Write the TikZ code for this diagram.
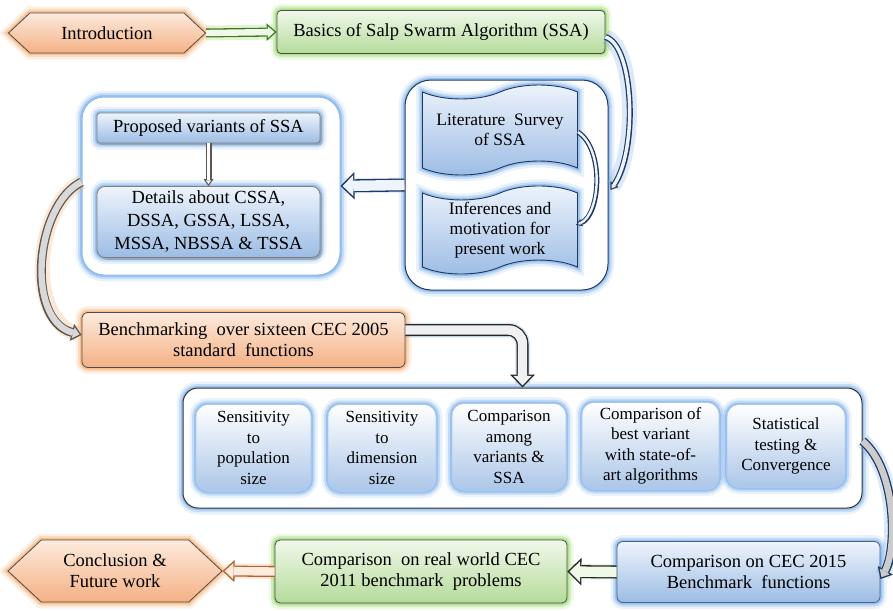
\documentclass[tikz,border=0pt]{standalone}
\usepackage{fontspec}
\setmainfont{Liberation Serif}
\usetikzlibrary{arrows.meta,shapes.symbols,shadows}
\definecolor{orLight}{HTML}{FDEBDD}
\definecolor{orDark}{HTML}{F4B084}
\definecolor{orGlow}{HTML}{F4A460}
\definecolor{grLight}{HTML}{F0F8EA}
\definecolor{grDark}{HTML}{B5DB9A}
\definecolor{grGlow}{HTML}{8FD45C}
\definecolor{blLight}{HTML}{EEF4FC}
\definecolor{blDark}{HTML}{9CBCE4}
\definecolor{blGlow}{HTML}{6FA8E8}
\definecolor{navy}{HTML}{1F3864}
\definecolor{arGreen}{HTML}{3F7A1E}
\definecolor{arOrange}{HTML}{B8602A}
\definecolor{arGray}{HTML}{5E5650}
\tikzset{
  x=1pt,y=-1pt,
  every node/.style={font=\fontsize{18.5}{21}\selectfont, align=center, inner sep=2pt},
  glow/.style={preaction={draw=#1, line width=13pt, opacity=0.15},
               preaction={draw=#1, line width=8pt, opacity=0.3},
               preaction={draw=#1, line width=4pt, opacity=0.5}},
  orbox/.style={draw=black!70, line width=0.8pt, top color=orLight, bottom color=orDark, glow=orGlow},
  grbox/.style={draw=black!70, line width=0.8pt, top color=grLight, bottom color=grDark, glow=grGlow},
  blbox/.style={draw=navy!80, line width=0.8pt, top color=blLight, bottom color=blDark, glow=blGlow},
  hexa/.style={signal, signal to=west and east, signal pointer angle=86, inner sep=0pt},
  grp/.style={draw=#1, line width=1pt, fill=white, glow=blGlow},
  inbox/.style={rounded corners=12pt, top color=white, bottom color=blDark!85, draw=blGlow!60, line width=0.6pt,
                glow=blGlow, font=\fontsize{17}{20.5}\selectfont},
  tp/.style={tape, tape bend top=in and out, tape bend bottom=in and out, tape bend height=14pt,
             draw=navy, line width=0.9pt, top color=blLight, bottom color=blDark, glow=blGlow,
             font=\fontsize{17.5}{20}\selectfont},
  aglow/.style={preaction={draw=#1, opacity=0.25, line width=15pt, -, shorten >=4pt}},
  harrow/.style n args={3}{
    /utils/exec={\pgfmathsetlengthmacro\hW{2.5*#3-5pt}%
                 \pgfmathsetlengthmacro\hL{#3+1pt}%
                 \pgfmathsetlengthmacro\hLi{\hL-3.4pt}%
                 \pgfmathsetlengthmacro\hWi{\hW*\hLi/\hL}%
                 \pgfmathsetlengthmacro\hS{#3-2.6pt}},
    preaction={draw=#1, line width=#3, shorten >=0pt, -{Triangle[length=\hL,width=\hW,line width=0pt]}},
    draw=#2, line width=\hS, shorten >=2.1pt, -{Triangle[length=\hLi,width=\hWi,line width=0pt]}},
}
\begin{document}
\begin{tikzpicture}
\useasboundingbox (0,0) rectangle (893,610);
% top row
\node[hexa, orbox, minimum width=197pt, minimum height=40pt] (intro) at (107,33) {Introduction};
\node[grbox, rounded corners=4pt, minimum width=328pt, minimum height=43pt] (basics) at (441,32) {Basics of Salp Swarm Algorithm (SSA)};
% literature group
\node[grp=navy, rounded corners=26pt, minimum width=203pt, minimum height=210pt] (litgroup) at (506.5,185) {};
\node[tp, minimum width=155pt, minimum height=90pt] (lit) at (500,130) {Literature\ \ Survey\\of SSA};
\node[tp, minimum width=155pt, minimum height=80pt] (inf) at (500,230) {Inferences and\\motivation\ for\\present work};
% left group
\node[grp=blGlow!80, rounded corners=22pt, minimum width=258pt, minimum height=178pt] (leftgroup) at (211,186) {};
\node[blbox, draw=black!50, rounded corners=3pt, minimum width=223pt, minimum height=30pt, drop shadow={opacity=0.4}] (prop) at (208.5,128) {Proposed variants\ of SSA};
\node[blbox, draw=black!50, rounded corners=8pt, minimum width=223pt, minimum height=71pt, drop shadow={opacity=0.4},
      font=\fontsize{18.5}{23}\selectfont] (details) at (208.5,222) {Details about CSSA,\\DSSA,\ GSSA,\ LSSA,\\MSSA,\ NBSSA \& TSSA};
% benchmark
\node[orbox, rounded corners=6pt, minimum width=323pt, minimum height=55pt] (bench) at (243.5,340) {Benchmarking\ \ over sixteen CEC 2005\\standard\ \ functions};
% bottom group
\node[grp=black!80, rounded corners=15pt, minimum width=679pt, minimum height=120pt] (botgroup) at (522.5,448) {};
\node[inbox, minimum width=115pt, minimum height=87pt] (s1) at (253.5,448) {Sensitivity\\to\\population\\size};
\node[inbox, minimum width=108pt, minimum height=87pt] (s2) at (382,448) {Sensitivity\\to\\dimension\\size};
\node[inbox, minimum width=114pt, minimum height=87pt] (s3) at (509,447) {Comparison\\among\\variants \&\\SSA};
\node[inbox, minimum width=137pt, minimum height=87pt] (s4) at (650.5,446) {Comparison of\\best variant\\with state-of-\\art algorithms};
\node[inbox, minimum width=118pt, minimum height=83pt] (s5) at (786,446) {Statistical\\testing \&\\Convergence};
% bottom row
\node[blbox, rounded corners=6pt, minimum width=263pt, minimum height=61pt] (cec15) at (748.5,572) {Comparison on CEC 2015\\Benchmark\ \ functions};
\node[grbox, rounded corners=5pt, minimum width=292pt, minimum height=63pt] (real) at (421,571.5) {Comparison\ \ on real world CEC\\2011 benchmark\ \ problems};
\node[hexa, orbox, minimum width=214pt, minimum height=62pt] (concl) at (115,571) {Conclusion \&\\Future work};
% connectors
\draw[aglow=grGlow, harrow={arGreen}{grLight}{9pt}] (intro.east) -- (basics.west);
\draw[aglow=blGlow, harrow={navy}{blLight}{6pt}] ([yshift=-5pt]basics.east) .. controls (634,45) and (638,150) .. ([xshift=2pt,yshift=-5pt]litgroup.east);
\draw[harrow={navy}{blLight}{5pt}] ([yshift=-2pt]lit.east) .. controls (605,150) and (600,215) .. ([xshift=-2pt,yshift=5pt]inf.east);
\draw[aglow=blGlow, harrow={navy}{blLight}{13pt}] (litgroup.west) -- (leftgroup.east);
\draw[harrow={arGray}{white}{6pt}] (prop.south) -- (details.north);
\draw[aglow=orGlow, harrow={arGray}{black!15}{9pt}] ([yshift=4pt]leftgroup.west) .. controls (35,205) and (25,320) .. ([yshift=5pt]bench.west);
\draw[aglow=blGlow, harrow={black!85}{black!6}{12pt}, rounded corners=14pt] ([yshift=10pt]bench.east) -| (botgroup.north);
\draw[aglow=blGlow, harrow={navy}{black!20}{9pt}] ([yshift=7pt]botgroup.east) .. controls (897,470) and (897,550) .. ([yshift=-7pt]cec15.east);
\draw[aglow=grGlow, harrow={black!85}{grLight}{13pt}] (cec15.west) -- (real.east);
\draw[aglow=orGlow, harrow={arOrange}{orLight}{11pt}] (real.west) -- (concl.east);
\end{tikzpicture}
\end{document}
